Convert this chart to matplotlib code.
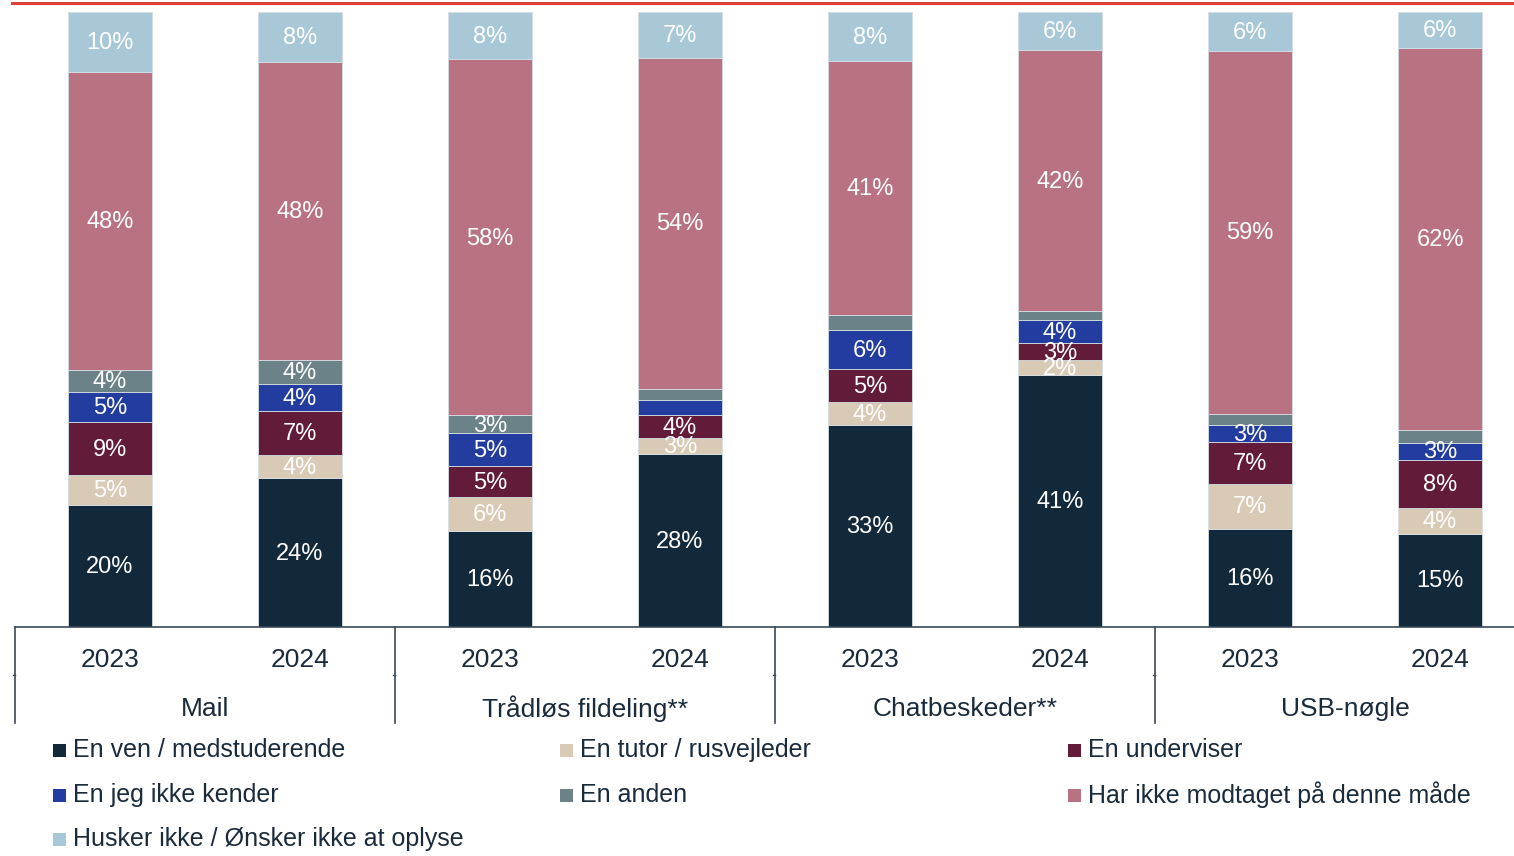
"""Stacked bars: hvem sendte materialet, fordelt på kanal og år."""

import matplotlib

matplotlib.use("Agg")

import matplotlib.pyplot as plt
import matplotlib.transforms as mtransforms
import numpy as np
from matplotlib.patches import Rectangle

plt.rcParams["font.family"] = ["Liberation Sans", "DejaVu Sans"]

GROUPS = ["Mail", "Trådløs fildeling**", "Chatbeskeder**", "USB-nøgle"]
YEARS = ["2023", "2024"]

SERIES = [
    "En ven / medstuderende",
    "En tutor / rusvejleder",
    "En underviser",
    "En jeg ikke kender",
    "En anden",
    "Har ikke modtaget på denne måde",
    "Husker ikke / Ønsker ikke at oplyse",
]

# values per bar: Mail 23, Mail 24, Tråd 23, Tråd 24, Chat 23, Chat 24, USB 23, USB 24
VEN = [19.8, 24.2, 15.6, 28.1, 32.8, 41.0, 16.0, 15.2]
TUTOR = [4.9, 3.7, 5.6, 2.7, 3.8, 2.4, 7.3, 4.1]
UNDERVISER = [8.6, 7.2, 4.9, 3.6, 5.3, 2.8, 6.7, 7.9]
UKENDT = [4.9, 4.4, 5.4, 2.5, 6.4, 3.7, 2.9, 2.8]
ANDEN = [3.6, 3.9, 2.9, 1.8, 2.4, 1.5, 1.8, 2.0]
IKKE_MODTAGET = [48.4, 48.4, 57.9, 53.9, 41.2, 42.4, 59.0, 62.2]
HUSKER_IKKE = [9.8, 8.1, 7.7, 7.4, 8.0, 6.2, 6.3, 5.8]

VALUES = [VEN, TUTOR, UNDERVISER, UKENDT, ANDEN, IKKE_MODTAGET, HUSKER_IKKE]

COLORS = ["#12283b", "#d9cab5", "#621c3a", "#233ca0", "#6b8289", "#b97282", "#a8c7d7"]
# smallest value that still gets a data label, per series
LABEL_MIN = [1.5, 1.5, 1.5, 2.7, 2.5, 1.5, 1.5]
TEXT_COLOR = "#1a2b3c"


def main() -> None:
    fig = plt.figure(figsize=(15.14, 8.56), dpi=100)
    W, H = 1514, 856
    # axes spans 15..1535 px horizontally (right group runs past the edge)
    ax = fig.add_axes([15 / W, (H - 627) / H, 1520 / W, 615 / H])

    data = np.array(VALUES, dtype=float)
    data = data / data.sum(axis=0) * 100.0
    x = np.arange(data.shape[1])
    bottom = np.zeros(data.shape[1])

    for i, (name, color) in enumerate(zip(SERIES, COLORS)):
        ax.bar(x, data[i], bottom=bottom, width=0.437, color=color,
               edgecolor="#d5dde3", linewidth=0.6, label=name)
        for xi, (raw, b, v) in enumerate(zip(VALUES[i], bottom, data[i])):
            if raw >= LABEL_MIN[i]:
                ax.text(xi, b + v / 2 - 0.2, f"{round(raw):.0f}%", ha="center",
                        va="center", color="white", fontsize=17)
        bottom += data[i]

    ax.set_xlim(-0.5, 7.5)
    ax.set_ylim(0, 100)
    ax.set_xticks([])
    ax.set_yticks([])
    for side in ["top", "left", "right"]:
        ax.spines[side].set_visible(False)
    ax.spines["bottom"].set_color("#3b4a58")
    ax.spines["bottom"].set_linewidth(1.2)

    trans = mtransforms.blended_transform_factory(ax.transData, ax.transAxes)
    for xi in x:
        ax.text(xi, -33 / 615, YEARS[xi % 2], transform=trans, ha="center",
                va="center", fontsize=19, color=TEXT_COLOR)
    for gi, group in enumerate(GROUPS):
        ax.text(2 * gi + 0.5, -82 / 615, group, transform=trans, ha="center",
                va="center", fontsize=19, color=TEXT_COLOR)
        sep = 2 * gi - 0.5
        ax.plot([sep, sep], [0, -96 / 615], transform=trans, color="#3b4a58",
                linewidth=1.2, clip_on=False)
        ax.plot([sep - 0.012, sep], [-48 / 615, -48 / 615], transform=trans,
                color="#3b4a58", linewidth=1.0, clip_on=False)

    # red rule across the top
    fig.add_artist(plt.Line2D([12 / W, 1.0], [(H - 2.5) / H] * 2,
                              transform=fig.transFigure, color="#e0403a",
                              linewidth=2.2))

    # legend, drawn by hand in three columns
    col_x = [53, 560, 1068]
    row_y = [750, 795, 839]
    for i, (name, color) in enumerate(zip(SERIES, COLORS)):
        cx = col_x[i % 3]
        cy = row_y[i // 3]
        fig.add_artist(Rectangle((cx / W, (H - cy - 7) / H), 13 / W, 13 / H,
                                 transform=fig.transFigure, facecolor=color,
                                 edgecolor="none"))
        fig.text((cx + 20) / W, (H - cy) / H, name, ha="left", va="center",
                 fontsize=18, color=TEXT_COLOR)

    fig.savefig("out.png", dpi=100)


if __name__ == "__main__":
    main()
